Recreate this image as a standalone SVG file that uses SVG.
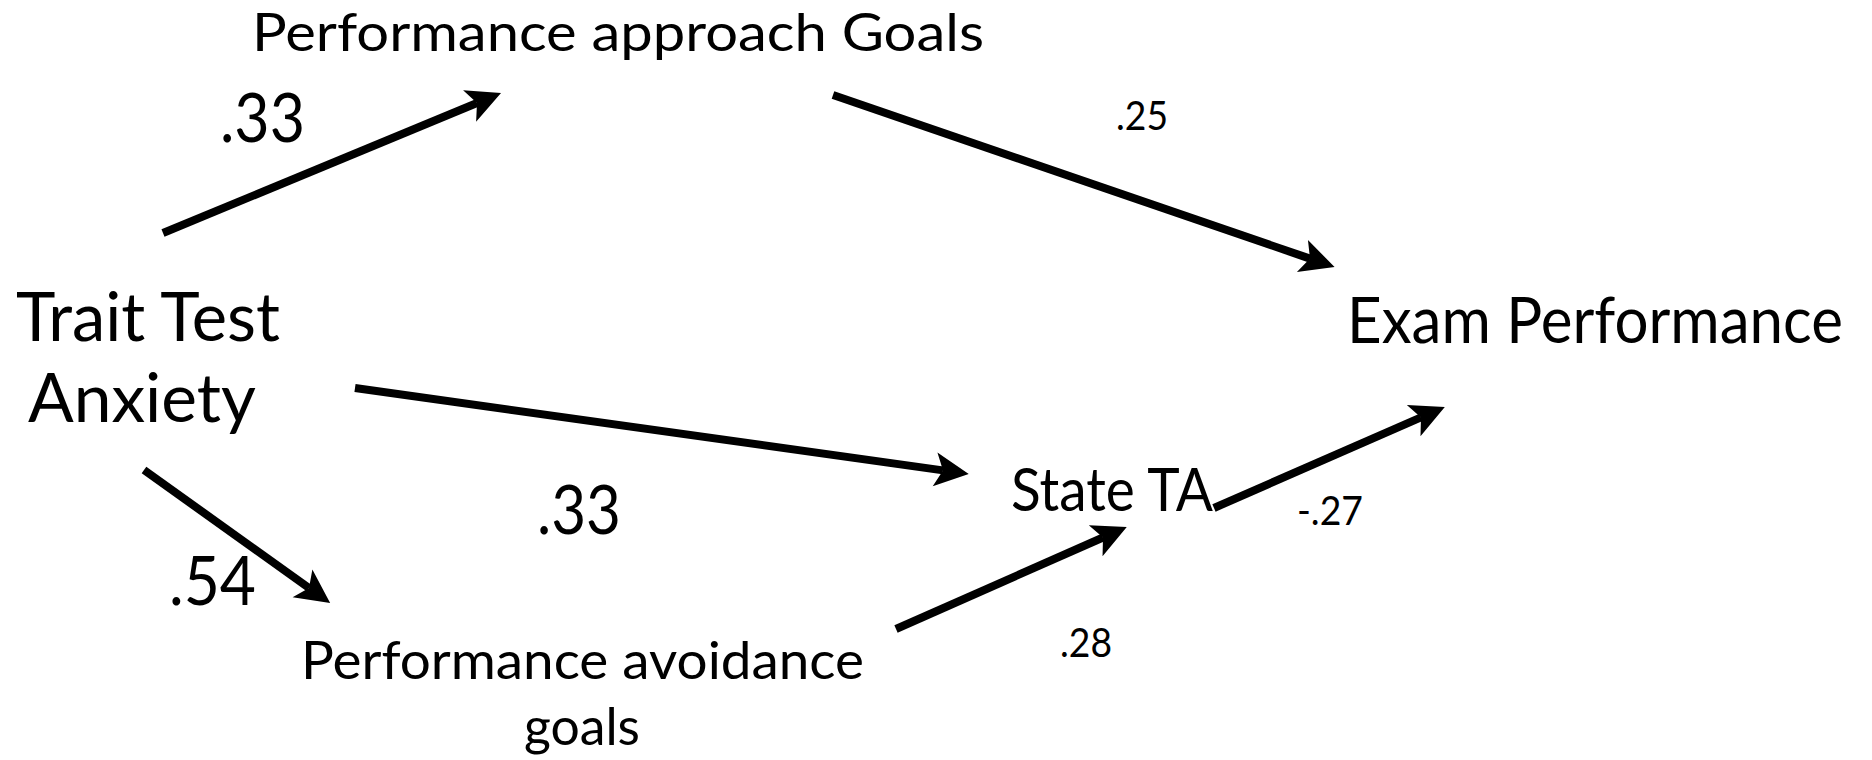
<svg xmlns="http://www.w3.org/2000/svg" width="1872" height="760" viewBox="0 0 1872 760">
<style>
text{font-family:Lato,"Open Sans","Liberation Sans",sans-serif;fill:#000}
.big{font-size:67px}
.mid{font-size:52px}
.sm{font-size:40px}
.conn line{stroke:#000;stroke-width:8;stroke-linecap:butt}
</style>
<defs>
<marker id="ah" markerUnits="userSpaceOnUse" viewBox="-10 -20 40 40" refX="0" refY="0" markerWidth="40" markerHeight="40" orient="auto" overflow="visible">
<path d="M26,0 L-8,-17 L0,0 L-8,17 Z" fill="#000"/>
</marker>
</defs>
<rect width="1872" height="760" fill="#fff"/>
<g id="connectors" class="conn">
<line x1="163" y1="233" x2="477" y2="103" marker-end="url(#ah)"/>
<line x1="833" y1="95" x2="1310" y2="258.6" marker-end="url(#ah)"/>
<line x1="355" y1="388" x2="943" y2="470.4" marker-end="url(#ah)"/>
<line x1="144" y1="470" x2="309" y2="588" marker-end="url(#ah)"/>
<line x1="896" y1="629" x2="1103" y2="537.5" marker-end="url(#ah)"/>
<line x1="1214" y1="508" x2="1421" y2="417.4" marker-end="url(#ah)"/>
</g>
<g id="trait">
<text class="big" x="16" y="341" textLength="264" lengthAdjust="spacingAndGlyphs">Trait Test</text>
<text class="big" x="28" y="422" textLength="228" lengthAdjust="spacingAndGlyphs">Anxiety</text>
</g>
<g id="approach">
<text class="mid" x="252" y="51" textLength="732" lengthAdjust="spacingAndGlyphs">Performance approach Goals</text>
</g>
<g id="exam">
<text x="1347" y="343" style="font-size:63px" textLength="496" lengthAdjust="spacingAndGlyphs">Exam Performance</text>
</g>
<g id="state">
<text x="1011" y="511" style="font-size:60px" textLength="202" lengthAdjust="spacingAndGlyphs">State TA</text>
</g>
<g id="avoidance">
<text class="mid" x="301" y="679" textLength="563" lengthAdjust="spacingAndGlyphs">Performance avoidance</text>
<text class="mid" x="524" y="745" textLength="116" lengthAdjust="spacingAndGlyphs">goals</text>
</g>
<g id="labels">
<text class="big" x="220" y="142" textLength="85" lengthAdjust="spacingAndGlyphs">.33</text>
<text class="sm" x="1116" y="130" textLength="52" lengthAdjust="spacingAndGlyphs">.25</text>
<text class="big" x="537" y="534" textLength="84" lengthAdjust="spacingAndGlyphs">.33</text>
<text class="big" x="169" y="605" textLength="87" lengthAdjust="spacingAndGlyphs">.54</text>
<text class="sm" x="1297" y="525" textLength="66" lengthAdjust="spacingAndGlyphs">-.27</text>
<text class="sm" x="1060" y="657" textLength="52" lengthAdjust="spacingAndGlyphs">.28</text>
</g>
</svg>
